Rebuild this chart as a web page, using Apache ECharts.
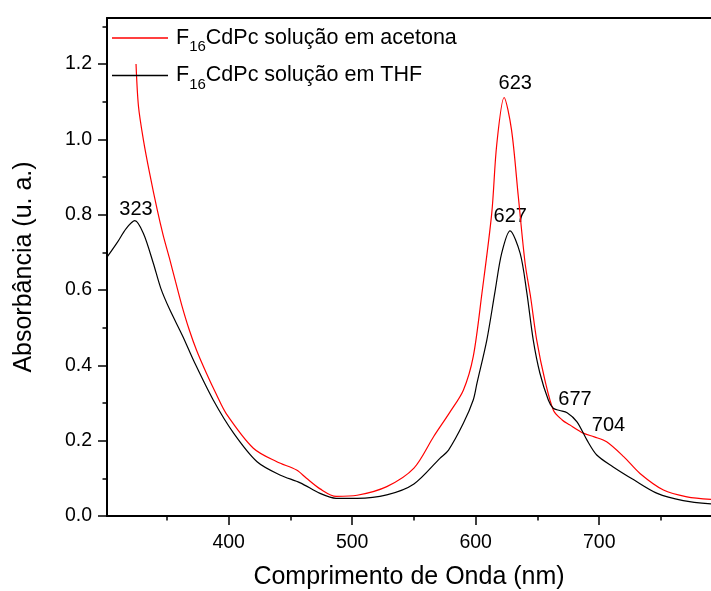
<!DOCTYPE html>
<html>
<head>
<meta charset="utf-8">
<script src="https://cdn.jsdelivr.net/npm/echarts@6/dist/echarts.min.js"></script>
<style>
  html, body { margin: 0; padding: 0; background: #fff; }
  #chart { width: 711px; height: 591px; }
</style>
</head>
<body>
<div id="chart"></div>
<script>
// F16CdPc em acetona (vermelho)
const acetonaNm = [325, 327, 331, 336, 342, 347, 352, 357, 362, 368, 374, 382, 390, 398, 420, 439, 455, 463, 474, 487, 504,
  528, 550, 566, 579, 590, 598, 605, 613, 617, 623, 629, 634.5, 640, 644.5, 649.4, 656, 663, 670, 676, 687,
  696, 706, 720, 733, 752, 771, 790.5]
const acetonaAbs = [1.200, 1.087, 0.998, 0.910, 0.815, 0.745, 0.685, 0.622, 0.560, 0.495, 0.440, 0.379, 0.323, 0.272, 0.180, 0.144, 0.122, 0.100, 0.072, 0.052, 0.055,
  0.078, 0.127, 0.211, 0.275, 0.334, 0.423, 0.590, 0.804, 0.985, 1.111, 1.025, 0.848, 0.671, 0.580, 0.467, 0.361, 0.280, 0.255, 0.242, 0.220,
  0.210, 0.197, 0.157, 0.113, 0.069, 0.051, 0.044]

// F16CdPc em THF (preto)
const thfNm = [301.5, 310, 317, 324, 331, 339, 345, 352, 363, 372, 387.5, 404, 423, 441.5, 458, 474, 487, 504, 528, 550,
  571, 578, 590, 598, 601, 609, 615.6, 621, 627.8, 636, 641.3, 646.6, 652, 658.8, 662.8, 668, 674, 682, 690, 698,
  711, 728, 747, 768, 790.5]
const thfAbs = [0.687, 0.727, 0.763, 0.784, 0.750, 0.671, 0.605, 0.550, 0.476, 0.410, 0.308, 0.220, 0.144, 0.109, 0.088, 0.060, 0.047, 0.047, 0.056, 0.085,
  0.153, 0.175, 0.246, 0.308, 0.352, 0.467, 0.595, 0.697, 0.757, 0.697, 0.595, 0.467, 0.379, 0.308, 0.286, 0.280, 0.274, 0.250, 0.202, 0.162,
  0.131, 0.096, 0.060, 0.041, 0.032]

const xMajor = [400, 500, 600, 700]
const xMinor = [350, 450, 550, 650, 750]
const yMajor = [0, 0.2, 0.4, 0.6, 0.8, 1.0, 1.2]
const yMinor = [0.1, 0.3, 0.5, 0.7, 0.9, 1.1, 1.3]

// rótulos dos picos (posição do texto)
const peakText = ['323', '623', '627', '677', '704']
const peakNm = [325, 632, 628, 680.4, 707.5]
const peakAbs = [0.815, 1.149, 0.794, 0.309, 0.240]

const nameAcetona = 'F16CdPc solução em acetona'
const nameThf = 'F16CdPc solução em THF'

const X_MIN = 301.5, X_MAX = 790.5, Y_MAX = 1.322
const FONT = 'Liberation Sans, Arial, sans-serif'

const chart = echarts.init(document.getElementById('chart'))

const zip = (xs, ys) => xs.map((x, i) => [x, ys[i]])

const xBase = {
  type: 'value', min: X_MIN, max: X_MAX, gridIndex: 0,
  splitLine: { show: false }
}
const yBase = {
  type: 'value', min: 0, max: Y_MAX, gridIndex: 0,
  splitLine: { show: false }
}

chart.setOption({
  animation: false,
  backgroundColor: '#fff',
  textStyle: { fontFamily: FONT },
  // outerBoundsMode none: não encolher o grid por causa dos nomes dos eixos
  grid: { left: 107, right: 0, top: 18, bottom: 75, containLabel: false, outerBoundsMode: 'none' },
  legend: {
    left: 107, top: 22, orient: 'vertical',
    icon: 'rect', itemWidth: 56, itemHeight: 1.3, itemGap: 10,
    data: [nameAcetona, nameThf],
    formatter: (n) => '{t|F}{s|16}{t|' + n.slice(3) + '}',
    textStyle: {
      color: '#000',
      padding: [0, 0, 0, 3],
      rich: {
        t: { fontSize: 21.5, color: '#000', fontFamily: FONT },
        s: { fontSize: 15, color: '#000', fontFamily: FONT, padding: [18, 0, 0, 0] }
      }
    }
  },
  xAxis: [
    {
      ...xBase, position: 'bottom',
      name: 'Comprimento de Onda (nm)', nameLocation: 'middle', nameGap: 49,
      nameTextStyle: { fontSize: 25, color: '#000', fontFamily: FONT },
      axisLine: { lineStyle: { color: '#000', width: 2 } },
      axisTick: { customValues: xMajor, length: 9, lineStyle: { color: '#000', width: 1.5 } },
      axisLabel: { customValues: xMajor, fontSize: 19.5, color: '#000', margin: 17, fontFamily: FONT }
    },
    {
      ...xBase, position: 'bottom',
      axisLine: { show: false },
      axisTick: { customValues: xMinor, length: 4.5, lineStyle: { color: '#000', width: 1.5 } },
      axisLabel: { show: false }
    },
    {
      ...xBase, position: 'top',
      axisLine: { lineStyle: { color: '#000', width: 2 } },
      axisTick: { show: false },
      axisLabel: { show: false }
    }
  ],
  yAxis: [
    {
      ...yBase, position: 'left',
      name: 'Absorbância (u. a.)', nameLocation: 'middle', nameGap: 70,
      nameTextStyle: { fontSize: 25, color: '#000', fontFamily: FONT },
      axisLine: { lineStyle: { color: '#000', width: 2 } },
      axisTick: { customValues: yMajor, length: 9, lineStyle: { color: '#000', width: 1.5 } },
      axisLabel: {
        customValues: yMajor, fontSize: 19.5, color: '#000', margin: 15, fontFamily: FONT,
        formatter: (v) => v.toFixed(1)
      }
    },
    {
      ...yBase, position: 'left',
      axisLine: { show: false },
      axisTick: { customValues: yMinor, length: 4.5, lineStyle: { color: '#000', width: 1.5 } },
      axisLabel: { show: false }
    }
  ],
  series: [
    {
      name: nameAcetona, type: 'line', smooth: 0.3, symbol: 'none',
      xAxisIndex: 0, yAxisIndex: 0,
      lineStyle: { color: '#ff0000', width: 1.2 }, itemStyle: { color: '#ff0000' },
      data: zip(acetonaNm, acetonaAbs)
    },
    {
      name: nameThf, type: 'line', smooth: 0.3, symbol: 'none',
      xAxisIndex: 0, yAxisIndex: 0,
      lineStyle: { color: '#000', width: 1.2 }, itemStyle: { color: '#000' },
      data: zip(thfNm, thfAbs)
    },
    {
      name: 'picos', type: 'scatter', symbolSize: 0, silent: true,
      xAxisIndex: 0, yAxisIndex: 0,
      itemStyle: { color: '#000', opacity: 1 },
      label: {
        show: true, position: 'inside', fontSize: 20, color: '#000', fontFamily: FONT,
        textBorderWidth: 0, opacity: 1,
        formatter: (p) => p.data[2]
      },
      data: peakNm.map((x, i) => [x, peakAbs[i], peakText[i]])
    }
  ]
})
</script>
</body>
</html>
